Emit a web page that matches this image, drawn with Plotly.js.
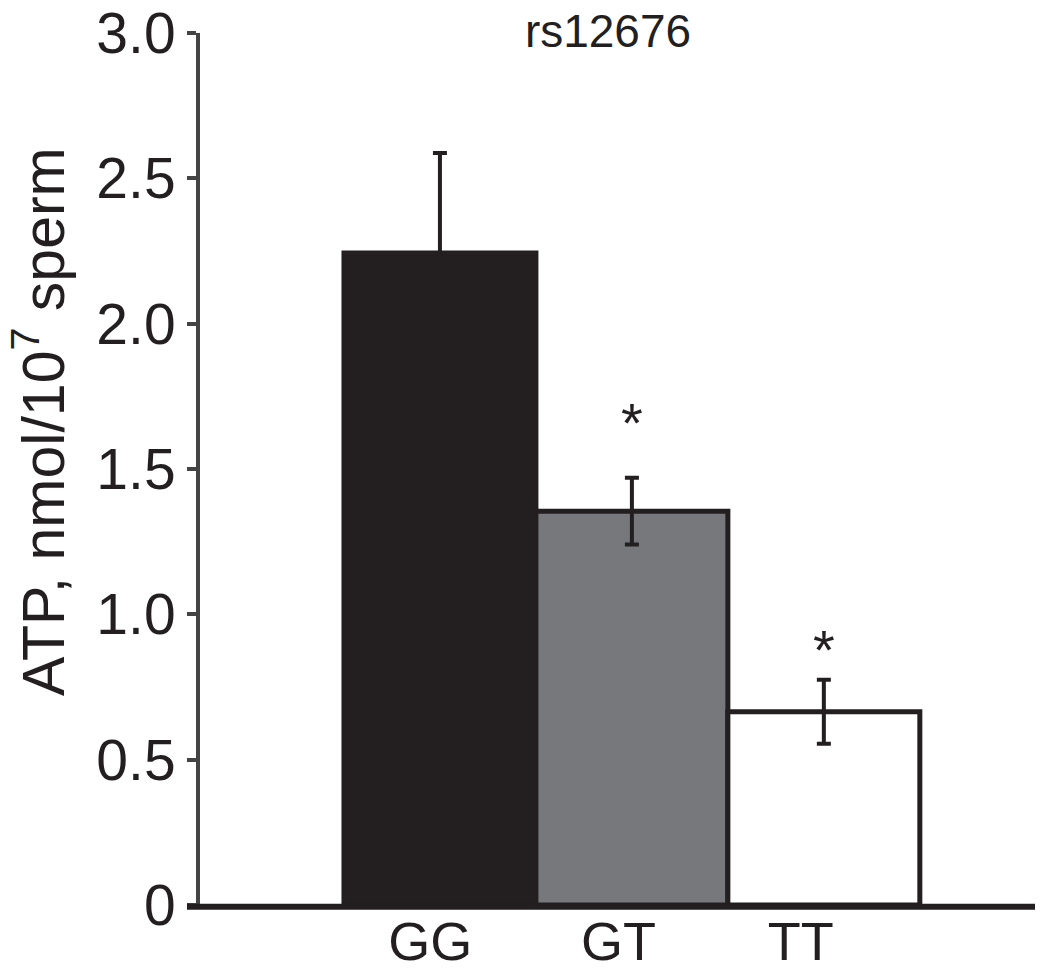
<!DOCTYPE html>
<html>
<head>
<meta charset="utf-8">
<script src="https://cdn.plot.ly/plotly-3.0.1.min.js"></script>
<style>html,body{margin:0;padding:0;background:#fff;}</style>
</head>
<body>
<div id="chart" style="width:1050px;height:978px;"></div>
<script>
// Data
const categories = ["GG", "GT", "TT"];
const atpMeans = [2.243, 1.355, 0.665];
const atpErrors = [0.344, 0.115, 0.11];
const significance = ["", "*", "*"];
const barColors = ["#231f20", "#77787b", "#ffffff"];
const yTickVals = [0, 0.5, 1.0, 1.5, 2.0, 2.5, 3.0];
const yTickText = ["0", "0.5", "1.0", "1.5", "2.0", "2.5", "3.0"];
const yAxisTitle = "ATP, nmol/10<sup>7</sup> sperm";
const chartTitle = "rs12676";

const FONT = "Liberation Sans, Arial, Helvetica, sans-serif";
const INK = "#231f20";
const xIdx = categories.map((c, i) => i);
const labelShift = [-0.05, -0.07, -0.12];
const starShift = [0, 14, -11];

const trace = {
  type: "bar",
  x: xIdx,
  y: atpMeans,
  width: 1,
  marker: { color: barColors, line: { color: INK, width: 5 } },
  error_y: { type: "data", array: atpErrors, visible: true, color: INK, thickness: 4, width: 7 },
  hoverinfo: "skip"
};

const annotations = significance.map((s, i) => ({
  x: i, y: atpMeans[i] + atpErrors[i], xref: "x", yref: "y",
  text: s, showarrow: false, yanchor: "bottom", yshift: 8 + starShift[i],
  font: { family: FONT, size: 56, color: INK }
})).filter(a => a.text);

annotations.push({
  xref: "paper", yref: "paper",
  x: (40 - 200) / 835, y: (905 - 422) / 872,
  xanchor: "center", yanchor: "middle",
  text: yAxisTitle, textangle: -90, showarrow: false,
  font: { family: FONT, size: 59, color: INK }
});

const layout = {
  width: 1050, height: 978,
  margin: { l: 200, r: 15, t: 33, b: 73 },
  paper_bgcolor: "#fff", plot_bgcolor: "#fff",
  showlegend: false,
  bargap: 0,
  title: {
    text: chartTitle, x: 608 / 1050, xanchor: "center",
    yref: "container", y: 1 - 31 / 978, yanchor: "middle",
    font: { family: FONT, size: 46, color: INK }
  },
  xaxis: {
    range: [-1.25, 3.1],
    showline: false, showgrid: false, zeroline: false,
    ticks: "",
    tickvals: xIdx.map((i) => i + labelShift[i]),
    ticktext: categories,
    tickfont: { family: FONT, size: 54, color: INK }
  },
  yaxis: {
    range: [0, 3],
    showline: true, linecolor: "#444", linewidth: 4,
    showgrid: false, zeroline: false,
    ticks: "outside", ticklen: 9, tickwidth: 4, tickcolor: "#444",
    tickvals: yTickVals, ticktext: yTickText,
    tickfont: { family: FONT, size: 57, color: INK }
  },
  shapes: [{
    type: "line", xref: "paper", yref: "paper",
    x0: -0.0156, x1: 1, y0: -0.002, y1: -0.002,
    line: { color: INK, width: 6 }, layer: "above"
  }],
  annotations: annotations
};

Plotly.newPlot("chart", [trace], layout, { staticPlot: true, displayModeBar: false });
</script>
</body>
</html>
